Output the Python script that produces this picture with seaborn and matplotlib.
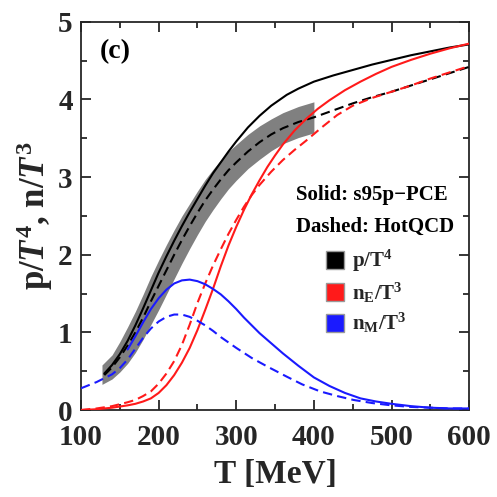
import numpy as np
import pandas as pd
import matplotlib
matplotlib.use("Agg")
import matplotlib.pyplot as plt
import seaborn as sns
from matplotlib.lines import Line2D

# s95p-PCE (solid) and HotQCD (dashed) curves
T_p_solid = [130, 140, 150, 160, 170, 180, 190, 200, 210, 220, 230, 240, 250, 260, 270, 280, 290,
             300, 315, 330, 345, 365, 380, 400, 425, 450, 475, 500, 525, 550, 575, 600]
p_solid = [0.47, 0.58, 0.72, 0.89, 1.09, 1.31, 1.54, 1.77, 1.98, 2.18, 2.37, 2.55, 2.72, 2.89, 3.05, 3.19, 3.33,
           3.46, 3.64, 3.79, 3.92, 4.06, 4.14, 4.23, 4.31, 4.38, 4.45, 4.51, 4.57, 4.62, 4.67, 4.71]

T_p_dash = [130, 140, 150, 160, 170, 180, 190, 200, 210, 220, 230, 240, 250, 260, 270, 280, 290,
            300, 315, 330, 345, 360, 380, 400, 425, 450, 475, 500, 525, 550, 575, 600]
p_dash = [0.45, 0.55, 0.68, 0.83, 1.00, 1.19, 1.40, 1.60, 1.80, 2.00, 2.19, 2.37, 2.54, 2.70, 2.84, 2.97, 3.09,
          3.19, 3.33, 3.45, 3.55, 3.63, 3.71, 3.77, 3.86, 3.95, 4.03, 4.10, 4.18, 4.26, 4.34, 4.42]

# HotQCD band for p/T^4
T_band = [127, 140, 150, 160, 170, 180, 190, 200, 210, 220, 230, 240, 250, 260, 270, 280, 290,
          300, 315, 330, 345, 360, 380, 400]
band_lo = [0.33, 0.40, 0.49, 0.60, 0.74, 0.91, 1.10, 1.29, 1.49, 1.69, 1.89, 2.08, 2.26, 2.43, 2.58, 2.72, 2.85,
           2.96, 3.11, 3.23, 3.34, 3.43, 3.51, 3.57]
band_hi = [0.58, 0.71, 0.88, 1.07, 1.27, 1.49, 1.72, 1.93, 2.13, 2.32, 2.50, 2.66, 2.82, 2.97, 3.10, 3.22, 3.33,
           3.42, 3.55, 3.66, 3.75, 3.83, 3.91, 3.97]

T_nE_solid = [100, 120, 140, 160, 170, 180, 190, 200, 210, 220, 230, 240, 250, 260, 270, 280, 290, 300, 310,
              320, 330, 340, 350, 360, 375, 390, 405, 420, 440, 460, 480, 500, 525, 550, 575, 600]
nE_solid = [0.00, 0.01, 0.03, 0.06, 0.08, 0.11, 0.15, 0.22, 0.32, 0.45, 0.61, 0.80, 1.03, 1.29, 1.56, 1.85,
            2.12, 2.36, 2.58, 2.78, 2.96, 3.13, 3.28, 3.42, 3.60, 3.75, 3.88, 3.99, 4.12, 4.23, 4.33, 4.42,
            4.51, 4.59, 4.66, 4.72]

T_nE_dash = [100, 120, 140, 160, 170, 180, 190, 200, 210, 220, 230, 240, 250, 260, 270, 280, 290, 300, 310,
             320, 330, 345, 360, 375, 390, 410, 430, 450, 475, 500, 525, 550, 575, 600]
nE_dash = [0.00, 0.02, 0.05, 0.10, 0.13, 0.18, 0.24, 0.34, 0.47, 0.63, 0.84, 1.10, 1.38, 1.63, 1.86, 2.07,
           2.27, 2.45, 2.62, 2.77, 2.90, 3.07, 3.22, 3.35, 3.47, 3.64, 3.80, 3.92, 4.02, 4.10, 4.18, 4.27,
           4.35, 4.43]

T_nM_solid = [160, 170, 180, 190, 200, 210, 220, 230, 240, 250, 260, 270, 280, 290, 300, 310, 320, 330,
              345, 360, 380, 400, 420, 440, 460, 480, 500, 525, 550, 575, 600]
nM_solid = [0.78, 0.95, 1.13, 1.30, 1.44, 1.55, 1.63, 1.67, 1.68, 1.66, 1.62, 1.56, 1.49, 1.40, 1.30, 1.19,
            1.09, 0.99, 0.86, 0.73, 0.57, 0.42, 0.31, 0.22, 0.15, 0.11, 0.08, 0.05, 0.03, 0.02, 0.02]

T_nM_dash = [100, 110, 120, 130, 140, 150, 160, 170, 180, 190, 200, 210, 220, 230, 240, 250, 260, 270, 280,
             290, 300, 320, 340, 365, 385, 408, 430, 451, 475, 500, 525, 550, 575, 600]
nM_dash = [0.28, 0.32, 0.36, 0.41, 0.46, 0.54, 0.65, 0.79, 0.93, 1.05, 1.14, 1.20, 1.23, 1.23, 1.20, 1.15,
           1.09, 1.02, 0.94, 0.87, 0.80, 0.67, 0.56, 0.43, 0.33, 0.24, 0.18, 0.13, 0.09, 0.06, 0.04, 0.03,
           0.02, 0.02]

red = "#ff1a1a"
blue = "#1a1aff"
dash = (0, (4.5, 2.5))

sns.set_style("ticks")
plt.rcParams["font.family"] = ["Liberation Serif", "DejaVu Serif"]
plt.rcParams["font.weight"] = "bold"
plt.rcParams["mathtext.fontset"] = "custom"
plt.rcParams["mathtext.rm"] = "Liberation Serif:bold"
plt.rcParams["mathtext.it"] = "Liberation Serif:italic:bold"
plt.rcParams["mathtext.bf"] = "Liberation Serif:bold"

fig = plt.figure(figsize=(4.97, 4.97), dpi=100)
ax = fig.add_axes([0.163, 0.175, 0.781, 0.781])

ax.fill_between(T_band, band_lo, band_hi, color="#808080", lw=0, zorder=2)
sns.lineplot(x=T_p_solid, y=p_solid, color="black", lw=1.5, ax=ax, zorder=3)
sns.lineplot(x=T_p_dash, y=p_dash, color="black", lw=1.5, ax=ax, zorder=3, linestyle=dash)
sns.lineplot(x=T_nE_solid, y=nE_solid, color=red, lw=1.5, ax=ax, zorder=3)
sns.lineplot(x=T_nE_dash, y=nE_dash, color=red, lw=1.5, ax=ax, zorder=3, linestyle=dash)
sns.lineplot(x=T_nM_solid, y=nM_solid, color=blue, lw=1.5, ax=ax, zorder=4)
sns.lineplot(x=T_nM_dash, y=nM_dash, color=blue, lw=1.5, ax=ax, zorder=4, linestyle=dash)

ax.set_xlim(100, 600)
ax.set_ylim(0, 5)
ax.set_xticks([100, 200, 300, 400, 500, 600])
ax.set_xticks(np.arange(150, 600, 100), minor=True)
ax.set_yticks([0, 1, 2, 3, 4, 5])
ax.set_yticks(np.arange(0.5, 5, 1), minor=True)
ax.tick_params(which="both", direction="in", top=True, right=True, width=1.3, labelsize=21)
ax.tick_params(which="major", length=7)
ax.tick_params(which="minor", length=4)
ax.tick_params(axis="x", pad=10)
ax.tick_params(axis="y", pad=6)
for s in ax.spines.values():
    s.set_linewidth(1.3)
for lab in ax.get_xticklabels() + ax.get_yticklabels():
    lab.set_fontweight("bold")

ax.set_xlabel("T [MeV]", fontsize=24, fontweight="bold", labelpad=6)
ax.set_ylabel(r"p/$T^4$, n/$T^3$", fontsize=25, fontweight="bold", labelpad=2)

ax.text(0.049, 0.923, "(c)", transform=ax.transAxes, fontsize=20, fontweight="bold",
        color="black", va="center", ha="left")
ax.text(0.554, 0.554, "Solid: s95p\u2212PCE", transform=ax.transAxes, fontsize=15,
        fontweight="bold", color="black", va="center", ha="left")
ax.text(0.554, 0.472, "Dashed: HotQCD", transform=ax.transAxes, fontsize=15,
        fontweight="bold", color="black", va="center", ha="left")

handles = [Line2D([], [], marker="s", color="none", markerfacecolor=c, markeredgecolor="#999999",
                  markersize=13) for c in ["black", red, blue]]
labels = [r"p/T$^{\mathbf{4}}$", r"n$_{\mathbf{E}}$/T$^{\mathbf{3}}$", r"n$_{\mathbf{M}}$/T$^{\mathbf{3}}$"]
ax.legend(handles, labels, loc="upper left", bbox_to_anchor=(0.58, 0.465), frameon=False,
          fontsize=15, handletextpad=0.3, labelspacing=0.3, handlelength=1.0)

fig.savefig("out.png", dpi=100)
